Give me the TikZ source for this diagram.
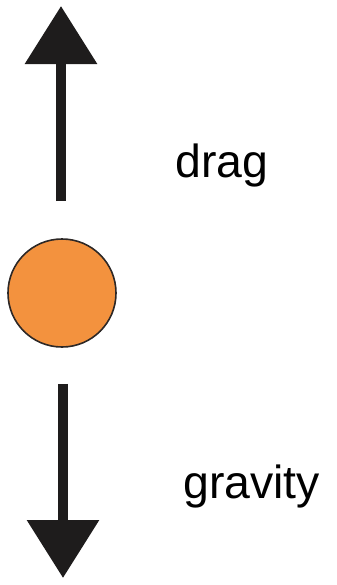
\documentclass[tikz,border=0pt]{standalone}
\usepackage{fontspec}
\setmainfont{Liberation Sans}
\usepackage{tikz}
\usetikzlibrary{positioning, arrows.meta}
\definecolor{ballFill}{RGB}{243,146,62}
\definecolor{ballEdge}{RGB}{45,40,38}
\definecolor{forceDark}{RGB}{30,28,28}

\begin{document}
\begin{tikzpicture}[
    x=0.5pt, y=-0.5pt,
    every node/.style={text=black},
    force/.style={forceDark, line width=5pt,
        -{Triangle[length=29pt, width=35pt]}},
    label/.style={anchor=base west, inner sep=0pt,
        font=\fontsize{23.2}{26}\selectfont},
]
% Canvas: x in [0, 337], y in [0, 585] (pixels, y down)
\useasboundingbox (0,0) rectangle (337,585);

% --- Falling ball ---
\node[circle, draw=ballEdge, fill=ballFill, line width=0.8pt,
      minimum size=54pt, inner sep=0pt] (ball) at (62,293) {};

% --- Force arrows: drag up, gravity down ---
\coordinate (dragTip) at (61,6);
\coordinate (gravTip) at (63,578);
\draw[force, shorten <=37*0.5pt] (ball.north -| dragTip) -- (dragTip);
\draw[force, shorten <=36*0.5pt] (ball.south -| gravTip) -- (gravTip);

% --- Labels ---
\node[label] (drag) at (175,177) {drag};
\node[label] (gravity) at (183,498) {gravity};

\end{tikzpicture}
\end{document}
